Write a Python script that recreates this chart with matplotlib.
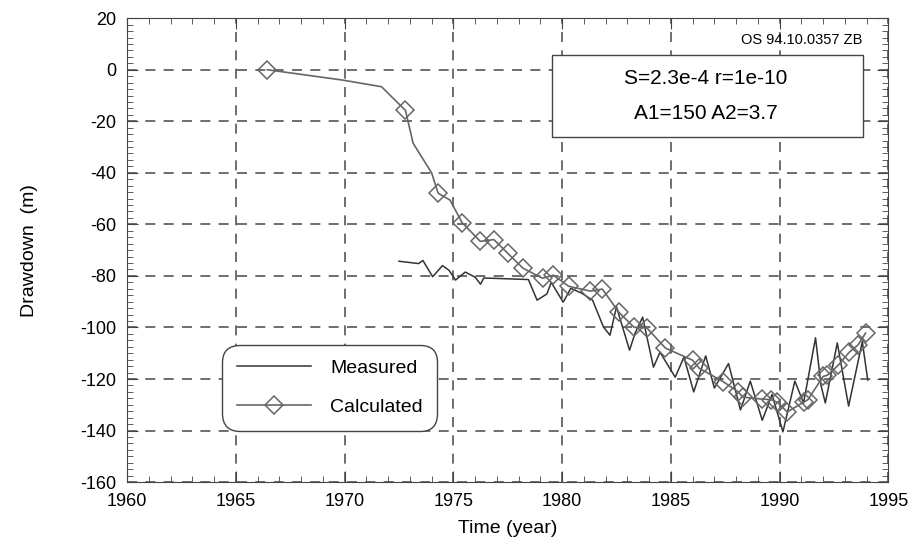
import matplotlib
matplotlib.use('Agg')
import matplotlib.pyplot as plt
from matplotlib.ticker import MultipleLocator
from matplotlib.patches import Rectangle

plt.rcParams['font.family'] = ['Liberation Sans', 'DejaVu Sans']
plt.rcParams['axes.unicode_minus'] = False

# measured drawdown
meas_year = [1972.5, 1973.4, 1973.6, 1974.05, 1974.5, 1974.8, 1975.1, 1975.55, 1976.0,
             1976.25, 1976.4, 1978.45, 1978.85, 1979.3, 1979.5, 1980.05, 1980.4, 1980.9,
             1981.4, 1981.9, 1982.2, 1982.5, 1983.1, 1983.35, 1983.7, 1984.2, 1984.5,
             1985.2, 1985.6, 1986.05, 1986.6, 1987.0, 1987.65, 1988.2, 1988.65, 1989.2,
             1989.65, 1990.15, 1990.7, 1991.1, 1991.65, 1991.9, 1992.1, 1992.65, 1993.17,
             1993.8, 1994.05]
meas_dd = [-74.3, -75.2, -74.0, -80.3, -76.0, -77.8, -81.6, -78.5, -80.5,
           -83.2, -80.8, -81.4, -89.4, -87.0, -82.5, -90.2, -84.8, -86.7,
           -89.4, -99.8, -103.0, -92.0, -108.8, -102.3, -96.0, -115.4, -109.6,
           -119.3, -111.5, -125.0, -111.0, -123.5, -114.0, -132.0, -120.8, -136.0,
           -126.0, -140.5, -120.8, -129.3, -104.0, -122.4, -129.3, -106.0, -130.5,
           -105.5, -120.4]

# calculated drawdown (line vertices), and which vertices carry a diamond
calc_year = [1966.45, 1969.9, 1971.7, 1972.8, 1973.15, 1974.0, 1974.3, 1974.85, 1975.4,
             1976.24, 1976.86, 1977.5, 1978.2, 1979.1, 1979.6, 1980.3, 1981.3, 1981.85,
             1982.6, 1983.3, 1983.9, 1984.75, 1986.0, 1986.3, 1987.4, 1988.1, 1988.3,
             1989.2, 1989.6, 1989.9, 1990.35, 1991.1, 1991.3, 1992.0, 1992.2, 1992.7,
             1993.2, 1993.6, 1993.95]
calc_dd = [0.0, -4.0, -6.6, -15.8, -28.5, -40.0, -47.9, -50.6, -59.3,
           -66.6, -65.9, -71.2, -77.0, -80.9, -79.7, -84.0, -85.9, -85.1,
           -94.0, -99.9, -100.2, -108.0, -112.7, -115.8, -121.0, -125.0, -127.0,
           -127.8, -128.0, -129.0, -132.8, -129.0, -128.0, -119.0, -118.5, -114.6,
           -109.6, -106.8, -102.2]
calc_marked = [True, False, False, True, False, False, True, False] + [True] * 31

fig = plt.figure(figsize=(9.14, 5.51), dpi=100)
ax = fig.add_axes([0.139, 0.125, 0.833, 0.842])

ax.plot(meas_year, meas_dd, color='#333333', lw=1.1, label='Measured')
ax.plot(calc_year, calc_dd, color='#666666', lw=1.2, marker='D', ms=9.5,
        mfc='none', mec='#666666', mew=1.1, markevery=calc_marked, label='Calculated')

ax.set_xlim(1960, 1995)
ax.set_ylim(-160, 20)
ax.xaxis.set_major_locator(MultipleLocator(5))
ax.xaxis.set_minor_locator(MultipleLocator(1))
ax.yaxis.set_major_locator(MultipleLocator(20))
ax.yaxis.set_minor_locator(MultipleLocator(2.5))
ax.tick_params(which='both', direction='in', top=True, right=True, labelsize=13,
               color='#444', pad=8)
ax.tick_params(which='major', length=8)
ax.tick_params(which='minor', length=4)
ax.grid(True, which='major', color='#555', ls=(0, (6, 5)), lw=1.2)
for s in ax.spines.values():
    s.set_color('#444')

ax.set_xlabel('Time (year)', fontsize=14, labelpad=7)
ax.set_ylabel('Drawdown  (m)', fontsize=14, labelpad=30)

leg = ax.legend(loc='lower left', bbox_to_anchor=(0.112, 0.09), fontsize=14,
                fancybox=True, framealpha=1, edgecolor='#444', handlelength=3.8,
                labelspacing=1.1, borderpad=0.75, handletextpad=1.0)
leg.get_frame().set_linewidth(1.0)
leg.get_frame().set_boxstyle('round', pad=0.0, rounding_size=0.9)

ax.text(0.966, 0.953, 'OS 94.10.0357 ZB', transform=ax.transAxes, ha='right', va='center',
        fontsize=10.5)
ax.add_patch(Rectangle((0.558, 0.744), 0.408, 0.176, transform=ax.transAxes,
                       fc='white', ec='#444', lw=1.0, zorder=5))
ax.text(0.760, 0.871, 'S=2.3e-4 r=1e-10', transform=ax.transAxes,
        ha='center', va='center', fontsize=15, zorder=6)
ax.text(0.760, 0.795, 'A1=150 A2=3.7', transform=ax.transAxes,
        ha='center', va='center', fontsize=15, zorder=6)

fig.savefig('out.png', dpi=100)
